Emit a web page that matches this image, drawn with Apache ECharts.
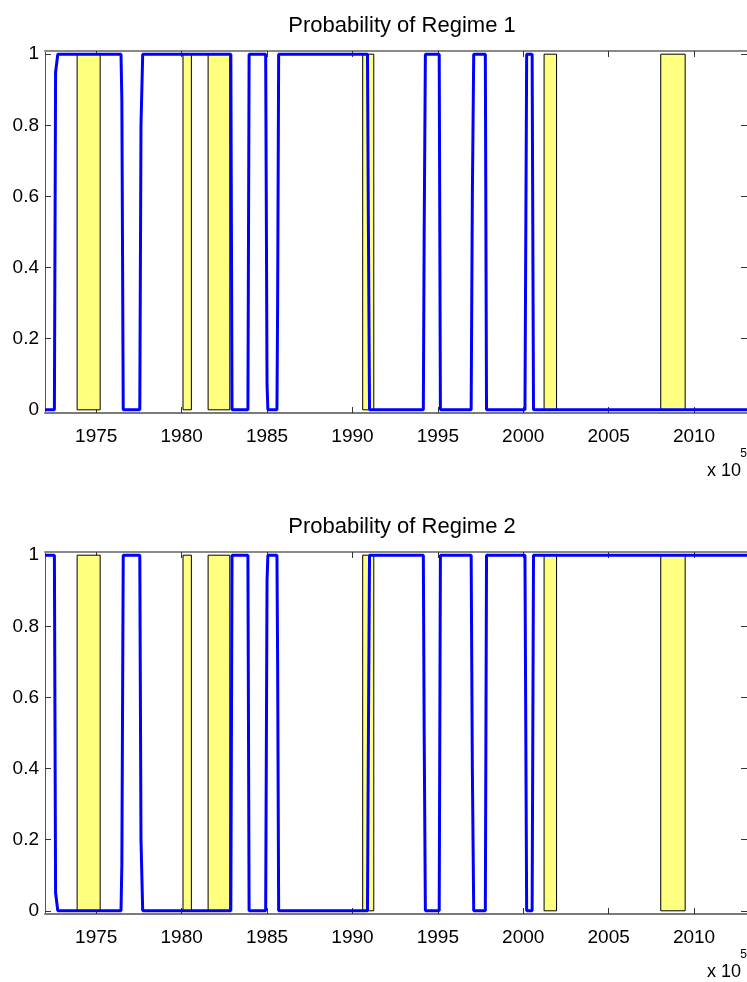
<!DOCTYPE html>
<html>
<head>
<meta charset="utf-8">
<script src="https://cdn.jsdelivr.net/npm/echarts@6/dist/echarts.min.js"></script>
<style>
html,body{margin:0;padding:0;background:#fff;}
#c{width:747px;height:982px;}
</style>
</head>
<body>
<div id="c"></div>
<script>
// ---- data ----
var titles = ['Probability of Regime 1', 'Probability of Regime 2'];
var xTickYears = [1975, 1980, 1985, 1990, 1995, 2000, 2005, 2010];
var yTickValues = [0, 0.2, 0.4, 0.6, 0.8, 1];
// transition points of the smoothed probability (decimal years)
var years = [1972.00, 1972.55, 1972.62, 1972.75, 1976.45, 1976.50, 1976.58, 1977.55, 1977.62, 1977.72,
             1982.88, 1982.95, 1983.88, 1983.95, 1984.92, 1985.00, 1985.05, 1985.58, 1985.62, 1985.68,
             1990.88, 1990.93, 1991.00, 1994.15, 1994.20, 1994.27, 1995.08, 1995.15, 1996.95, 1997.02,
             1997.10, 1997.78, 1997.85, 2000.10, 2000.20, 2000.52, 2000.60, 2013.10];
var regime1 = [0, 0, 0.95, 1, 1, 0.87, 0, 0, 0.8, 1,
               1, 0, 0, 1, 1, 0.07, 0, 0, 0.3, 1,
               1, 0.55, 0, 0, 0.5, 1, 1, 0, 0, 0.6,
               1, 1, 0, 0, 1, 1, 0, 0];
var regime2 = [1, 1, 0.05, 0, 0, 0.13, 1, 1, 0.2, 0,
               0, 1, 1, 0, 0, 0.93, 1, 1, 0.7, 0,
               0, 0.45, 1, 1, 0.5, 0, 0, 1, 1, 0.4,
               0, 0, 1, 1, 0, 0, 1, 1];
// shaded recessions (decimal years)
var recStart = [1973.88, 1980.08, 1981.55, 1990.60, 2001.22, 2008.05];
var recEnd   = [1975.23, 1980.57, 1982.82, 1991.25, 2001.95, 2009.48];

var FONT = "'Liberation Sans', Arial, sans-serif";
var XMIN = 1972, XMAX = 2013.1, YMIN = -0.009, YMAX = 1.009;

function pairs(xs, ys){ return xs.map(function(x,i){ return [x, ys[i]]; }); }
function areas(){
  return recStart.map(function(s,i){ return [{coord:[s,0]},{coord:[recEnd[i],1]}]; });
}

var gridTops = [51, 552];
var grids = gridTops.map(function(t){ return {left:45, top:t, width:703, height:362, show:false}; });

var xAxes = [], yAxes = [], series = [], titleArr = [], graphics = [];
[0,1].forEach(function(g){
  xAxes.push({gridIndex:g, type:'value', position:'bottom', min:XMIN, max:XMAX,
    axisLine:{show:true, onZero:false, lineStyle:{color:'#7a7a7a', width:2}},
    axisTick:{show:true, inside:true, length:6, customValues:xTickYears, lineStyle:{color:'#333', width:1}},
    axisLabel:{show:true, customValues:xTickYears, margin:14, color:'#000', fontFamily:FONT, fontSize:19,
      formatter:function(v){ return String(Math.round(v)); }},
    splitLine:{show:false}});
  xAxes.push({gridIndex:g, type:'value', position:'top', min:XMIN, max:XMAX,
    axisLine:{show:true, onZero:false, lineStyle:{color:'#8a8a8a', width:2}},
    axisTick:{show:true, inside:true, length:6, customValues:xTickYears, lineStyle:{color:'#333', width:1}},
    axisLabel:{show:false}, splitLine:{show:false}});
  yAxes.push({gridIndex:g, type:'value', position:'left', min:YMIN, max:YMAX,
    axisLine:{show:true, onZero:false, lineStyle:{color:'#555', width:1}},
    axisTick:{show:true, inside:true, length:6, customValues:yTickValues, lineStyle:{color:'#333', width:1}},
    axisLabel:{show:true, customValues:yTickValues, margin:6, color:'#000', fontFamily:FONT, fontSize:19,
      formatter:function(v){ return String(Math.round(v*10)/10); }},
    splitLine:{show:false}});
  yAxes.push({gridIndex:g, type:'value', position:'right', min:YMIN, max:YMAX,
    axisLine:{show:true, onZero:false, lineStyle:{color:'#555', width:1}},
    axisTick:{show:true, inside:true, length:6, customValues:yTickValues, lineStyle:{color:'#333', width:1}},
    axisLabel:{show:false}, splitLine:{show:false}});

  series.push({type:'line', xAxisIndex:2*g, yAxisIndex:2*g, data:pairs(years, g===0?regime1:regime2),
    showSymbol:false, symbol:'none', lineStyle:{color:'#0000ff', width:3}, z:5, silent:true,
    clip:true,
    markArea:{silent:true, itemStyle:{color:'#ffff80', borderColor:'#000', borderWidth:1}, data:areas()}});

  titleArr.push({text:titles[g], left:397, textAlign:'center', top:gridTops[g]-41,
    textStyle:{fontFamily:FONT, fontSize:22, fontWeight:'normal', color:'#000'}});
});

var chart = echarts.init(document.getElementById('c'), null, {renderer:'canvas'});
chart.setOption({
  animation:false,
  backgroundColor:'#fff',
  title:titleArr,
  grid:grids,
  xAxis:xAxes,
  yAxis:yAxes,
  series:series,
  graphic:[
    {type:'text', right:6, top:462, style:{text:'x 10', fontFamily:FONT, fontSize:18, fill:'#000'}},
    {type:'text', right:0, top:448, style:{text:'5', fontFamily:FONT, fontSize:12, fill:'#000'}},
    {type:'text', right:6, top:963, style:{text:'x 10', fontFamily:FONT, fontSize:18, fill:'#000'}},
    {type:'text', right:0, top:949, style:{text:'5', fontFamily:FONT, fontSize:12, fill:'#000'}}
  ]
});
</script>
</body>
</html>
